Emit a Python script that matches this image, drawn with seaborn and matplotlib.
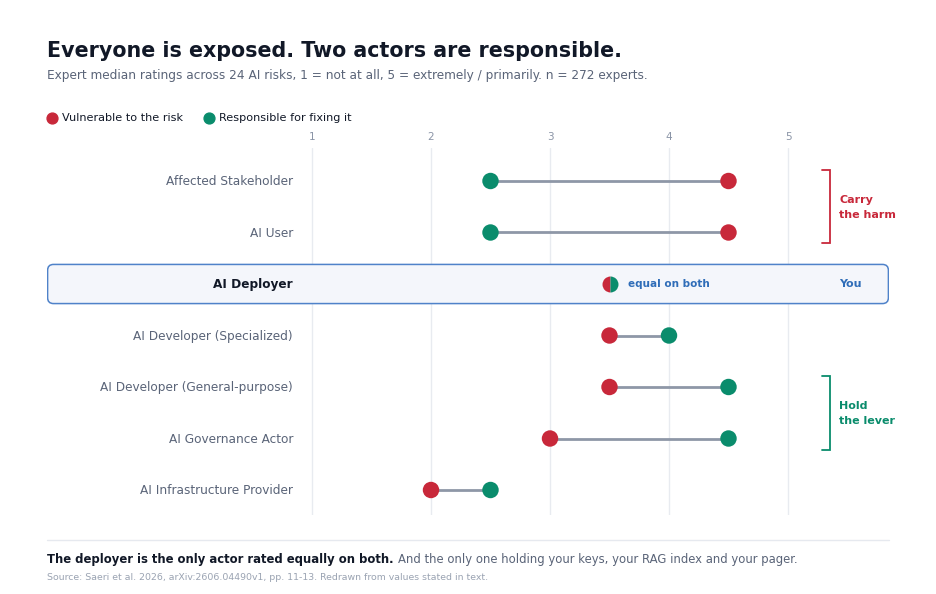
import matplotlib
matplotlib.use("Agg")
import matplotlib.pyplot as plt
from matplotlib.patches import FancyBboxPatch
import pandas as pd
import seaborn as sns

# Data (median ratings, 1-5)
actors = [
    "Affected Stakeholder",
    "AI User",
    "AI Deployer",
    "AI Developer (Specialized)",
    "AI Developer (General-purpose)",
    "AI Governance Actor",
    "AI Infrastructure Provider",
]
vulnerable = [4.5, 4.5, 3.5, 3.5, 3.5, 3.0, 2.0]
responsible = [2.5, 2.5, 3.5, 4.0, 4.5, 4.5, 2.5]
x_ticks = [1, 2, 3, 4, 5]
highlight = "AI Deployer"

RED = "#c8283a"
GREEN = "#0a8c6c"
BLUE = "#2f6db8"
GREY_LINE = "#8e97a7"
LABEL = "#5a6478"
DARK = "#111827"

sns.set_theme(style="white")
plt.rcParams["font.family"] = ["DejaVu Sans"]

fig = plt.figure(figsize=(9.36, 5.94), dpi=100)
W, H = 936, 594

# axes spans the highlight box width: px 47..889, rows from 148..515
ax = fig.add_axes([47 / W, 1 - 515 / H, (889 - 47) / W, (515 - 148) / H])
px = 119.0  # pixels per rating unit
ax.set_xlim(1 - (312 - 47) / px, 5 + (889 - 788) / px)
row_px = (490 - 181) / 6
ax.set_ylim(6 + (515 - 490) / row_px, -(181 - 148) / row_px)
ax.axis("off")

# vertical gridlines
for t in x_ticks:
    ax.axvline(t, color="#e8ebf0", lw=1, zorder=0)
    ax.text(t, -(181 - 137) / row_px, str(t), ha="center", va="center",
            fontsize=7.5, color="#8a94a6", clip_on=False)

# highlight box for the deployer row
hi = actors.index(highlight)
box = FancyBboxPatch((1 - (312 - 47) / px + 0.005, hi - 0.38),
                     (889 - 47) / px - 0.01, 0.76,
                     boxstyle="round,pad=0,rounding_size=0.05",
                     fc="#f4f6fb", ec="#4f82c9", lw=1.1, zorder=1,
                     mutation_aspect=2.3)
ax.add_patch(box)

# connecting lines
others = [i for i in range(len(actors)) if i != hi]
ax.hlines(others, [min(vulnerable[i], responsible[i]) for i in others],
          [max(vulnerable[i], responsible[i]) for i in others],
          color=GREY_LINE, lw=2, zorder=2)

df = pd.DataFrame({
    "row": others * 2,
    "value": [vulnerable[i] for i in others] + [responsible[i] for i in others],
    "kind": ["Vulnerable"] * len(others) + ["Responsible"] * len(others),
})
sns.scatterplot(data=df, x="value", y="row", hue="kind",
                palette={"Vulnerable": RED, "Responsible": GREEN},
                s=140, edgecolor="none", legend=False, ax=ax, zorder=3)

# half/half marker for the equal case
ax.plot([vulnerable[hi]], [hi], marker="o", markersize=11.5, fillstyle="left",
        markerfacecolor=RED, markerfacecoloralt=GREEN, markeredgecolor="none",
        zorder=4)
ax.text(vulnerable[hi] + 18 / px, hi, "equal on both", ha="left",
        va="center", fontsize=7.5, fontweight="bold", color=BLUE, zorder=5)
ax.text(5 + (839 - 788) / px, hi, "You", ha="left", va="center",
        fontsize=8, fontweight="bold", color=BLUE, zorder=5)

# row labels
for i, name in enumerate(actors):
    bold = i == hi
    ax.text(1 - 19 / px, i + 0.01, name, ha="right", va="center", fontsize=8.7,
            fontweight="bold" if bold else "normal",
            color=DARK if bold else LABEL, zorder=5)

# brackets on the right
def bracket(y0, y1, color, label):
    xb = 5 + (830 - 788) / px
    ax.plot([xb - 8 / px, xb, xb, xb - 8 / px], [y0, y0, y1, y1],
            color=color, lw=1.3, clip_on=False, solid_joinstyle="miter")
    ax.text(xb + 9 / px, (y0 + y1) / 2 + 0.02, label, ha="left", va="center",
            fontsize=8, fontweight="bold", color=color, linespacing=1.6)

bracket(-(181 - 170) / row_px, 1 + (243 - 232) / row_px, RED, "Carry\nthe harm")
bracket(4 - (387 - 376) / row_px, 5 + (449 - 438) / row_px, GREEN, "Hold\nthe lever")

# title, subtitle
fig.text(47 / W, 1 - 51 / H, "Everyone is exposed. Two actors are responsible.",
         ha="left", va="center", fontsize=14.9, fontweight="bold", color=DARK)
fig.text(47 / W, 1 - 75 / H,
         "Expert median ratings across 24 AI risks, 1 = not at all, "
         "5 = extremely / primarily. n = 272 experts.",
         ha="left", va="center", fontsize=8.75, color=LABEL)

# legend
for xc, color, label in [(52, RED, "Vulnerable to the risk"),
                         (209, GREEN, "Responsible for fixing it")]:
    fig.lines.append(plt.Line2D([xc / W], [1 - 118 / H], marker="o",
                                markersize=7.8, color=color, lw=0,
                                transform=fig.transFigure, figure=fig))
    fig.text((xc + 10) / W, 1 - 118 / H, label, ha="left", va="center",
             fontsize=8.1, color=DARK)

# footer
fig.lines.append(plt.Line2D([47 / W, 889 / W], [1 - 540 / H, 1 - 540 / H],
                            color="#e6e9ef", lw=1, transform=fig.transFigure,
                            figure=fig))
t1 = fig.text(47 / W, 1 - 559 / H, "The deployer is the only actor rated equally on both.",
              ha="left", va="center", fontsize=8.35, fontweight="bold", color=DARK)
fig.canvas.draw()
bb = t1.get_window_extent()
fig.text((bb.x1 + 4) / W, 1 - 559 / H,
         "And the only one holding your keys, your RAG index and your pager.",
         ha="left", va="center", fontsize=8.35, color=LABEL)
fig.text(47 / W, 1 - 577 / H,
         "Source: Saeri et al. 2026, arXiv:2606.04490v1, pp. 11-13. "
         "Redrawn from values stated in text.",
         ha="left", va="center", fontsize=6.75, color="#9aa3b2")

fig.savefig("out.png", dpi=100, facecolor="white")
